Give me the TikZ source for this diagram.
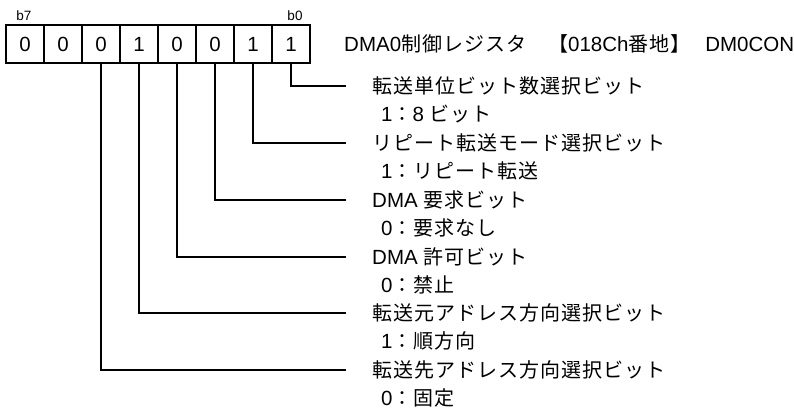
\documentclass[tikz,border=0pt]{standalone}
\usepackage{fontspec}
\setmainfont{Liberation Sans}
\newfontfamily\jpfont{Noto Sans CJK JP}[LetterSpace=5]
\newcommand\J[1]{{\fontsize{20}{22}\jpfont #1}}
\begin{document}
\begin{tikzpicture}[x=1pt,y=-1pt,
  cell/.style={draw,line width=1.6pt,minimum width=38pt,minimum height=38pt,inner sep=0pt,
    font=\fontsize{20.5}{22}\selectfont},
  bitlbl/.style={inner sep=0pt,font=\fontsize{13.5}{15}\selectfont},
  lbl/.style={anchor=west,inner sep=0pt,text height=14.7pt,text depth=0pt,
    font=\fontsize{20.5}{22}\selectfont},
  conn/.style={line width=1.1pt}]
\useasboundingbox (0,0) rectangle (794,410);
% register cells
\node[cell] (c7) at (25,44) {0};
\node[cell] (c6) at (63,44) {0};
\node[cell] (c5) at (101,44) {0};
\node[cell] (c4) at (139,44) {1};
\node[cell] (c3) at (177,44) {0};
\node[cell] (c2) at (215,44) {0};
\node[cell] (c1) at (253,44) {1};
\node[cell] (c0) at (291,44) {1};
\node[bitlbl] (b7) at (24,16) {b7};
\node[bitlbl] (b0) at (295,16) {b0};
% title
\node[lbl] (title) at (344,44) {DMA0\J{制御レジスタ}\hspace{22pt}\J{【}018Ch\J{番地】}\hspace{9pt} DM0CON};
% labels
\node[lbl] (t0) at (372,86) {\J{転送単位ビット数選択ビット}};
\node[lbl] (s0) at (381,114.5) {1\J{：}8 \J{ビット}};
\node[lbl] (t1) at (372,143) {\J{リピート転送モード選択ビット}};
\node[lbl] (s1) at (381,171.5) {1\J{：リピート転送}};
\node[lbl] (t2) at (372,200) {DMA \J{要求ビット}};
\node[lbl] (s2) at (381,228.5) {0\J{：要求なし}};
\node[lbl] (t3) at (372,257) {DMA \J{許可ビット}};
\node[lbl] (s3) at (381,285.5) {0\J{：禁止}};
\node[lbl] (t4) at (372,313) {\J{転送元アドレス方向選択ビット}};
\node[lbl] (s4) at (381,341.5) {1\J{：順方向}};
\node[lbl] (t5) at (372,370) {\J{転送先アドレス方向選択ビット}};
\node[lbl] (s5) at (381,398.5) {0\J{：固定}};
% connector ends
\coordinate (e0) at (346,86);
\coordinate (e1) at (346,143);
\coordinate (e2) at (346,200);
\coordinate (e3) at (346,257);
\coordinate (e4) at (346,313);
\coordinate (e5) at (346,370);
\draw[conn] (c0.south) |- (e0);
\draw[conn] (c1.south) |- (e1);
\draw[conn] (c2.south) |- (e2);
\draw[conn] (c3.south) |- (e3);
\draw[conn] (c4.south) |- (e4);
\draw[conn] (c5.south) |- (e5);
\end{tikzpicture}
\end{document}
